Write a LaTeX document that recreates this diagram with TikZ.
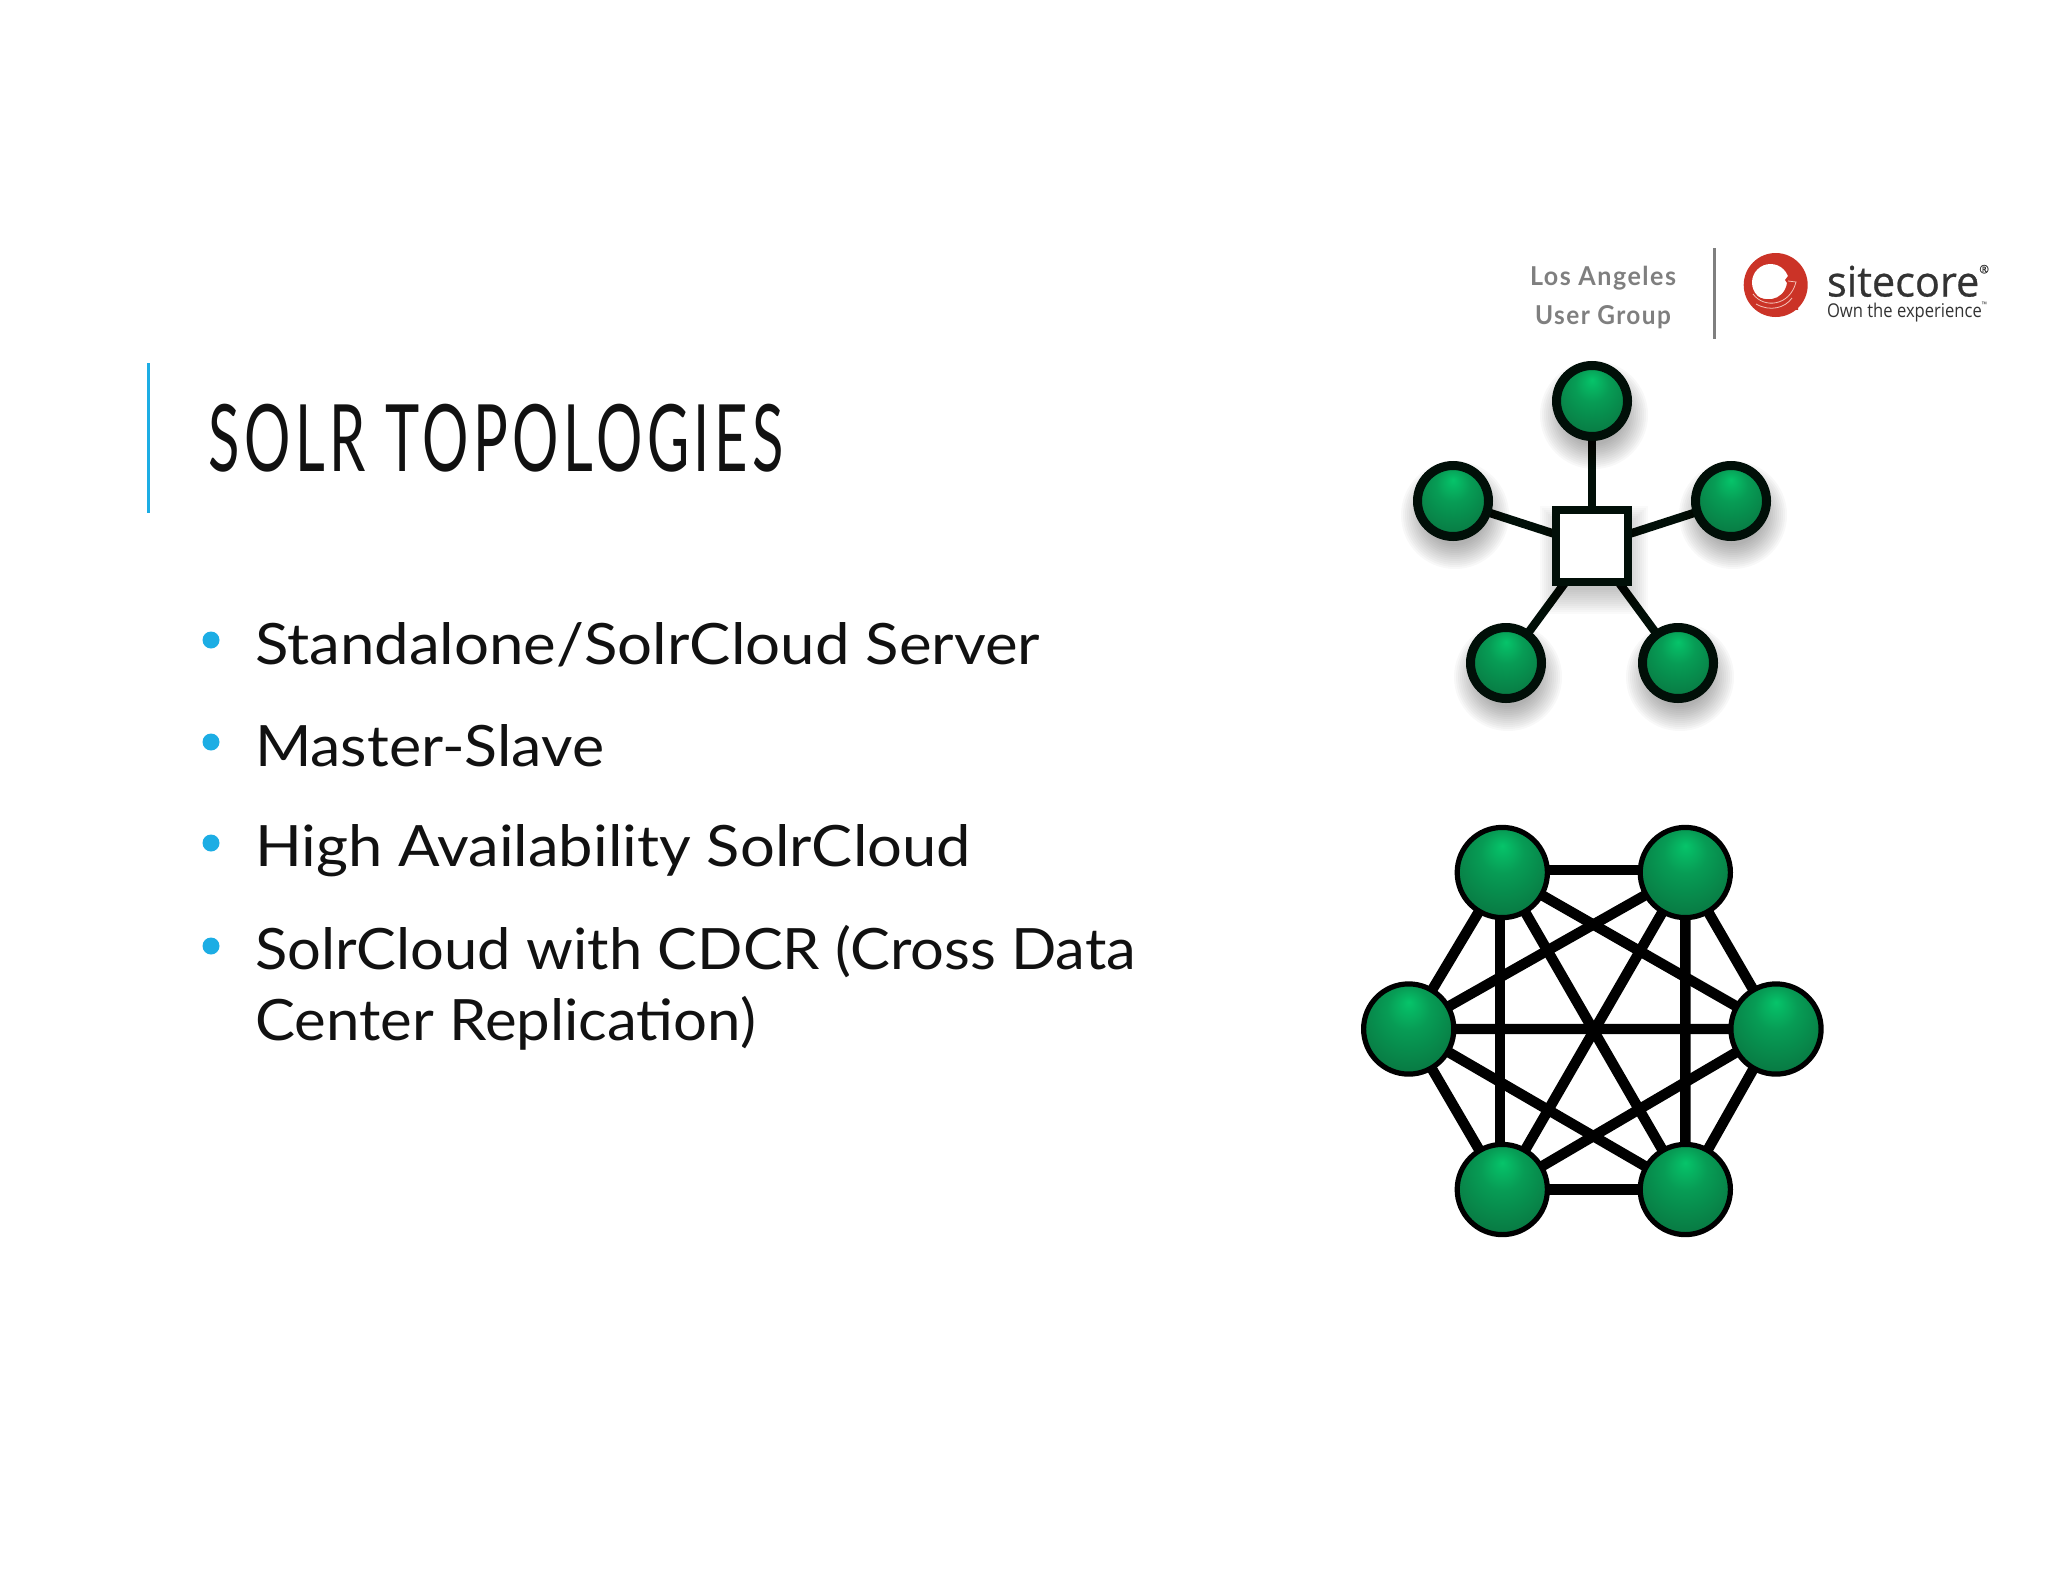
\documentclass[tikz,border=0pt]{standalone}
\usepackage{fontspec}
\usepackage{graphicx}
\usetikzlibrary{backgrounds}
\newfontfamily\bodyfont{Lato}
\newfontfamily\titlefont{Lato}[LetterSpace=8]
\newfontfamily\groupfont{Lato}[LetterSpace=6]
\newfontfamily\logofont{Open Sans}[FakeBold=0.6]
\newfontfamily\sloganfont{Open Sans}
\newcommand{\fitw}[2]{\resizebox{#1pt}{\height}{#2}}
\definecolor{accent}{HTML}{1CADE4}
\definecolor{inkdark}{HTML}{111111}
\definecolor{groupgrey}{HTML}{7F7F7F}
\definecolor{logored}{HTML}{CB3327}
\definecolor{logopink}{HTML}{F3C2B8}
\definecolor{logoink}{HTML}{333333}
\definecolor{ringdark}{HTML}{010F08}
\definecolor{gA}{HTML}{06C46A}
\definecolor{gB}{HTML}{079C55}
\definecolor{gC}{HTML}{087A43}
\definecolor{gD}{HTML}{055A32}
\pgfdeclareradialshading{greenball}{\pgfpoint{0bp}{15bp}}{%
  color(0bp)=(gA); color(12bp)=(gB); color(30bp)=(gC); color(50bp)=(gD)}
\pgfdeclarelayer{edges}
\pgfsetlayers{edges,main}
\tikzset{
  every node/.style={inner sep=0pt, outer sep=0pt},
  bodyline/.style={anchor=base west, text=inkdark, font=\bodyfont\fontsize{57}{57}\selectfont},
  titleline/.style={anchor=base west, text=inkdark, font=\titlefont\fontsize{93}{93}\selectfont},
  groupline/.style={anchor=base, text=groupgrey, font=\groupfont\bfseries\fontsize{26}{26}\selectfont},
  bulletdot/.style={circle, fill=accent, minimum size=17pt},
  starnode/.style={circle, draw=ringdark, line width=9pt, minimum size=71pt, shade, shading=greenball},
  hubnode/.style={rectangle, draw=ringdark, line width=8pt, fill=white, minimum size=72pt},
  meshnode/.style={circle, draw=black, line width=5.2pt, minimum size=90.2pt, shade, shading=greenball},
  staredge/.style={draw=ringdark, line width=8.4pt},
  meshedge/.style={draw=black, line width=10.4pt},
}
\begin{document}
\begin{tikzpicture}[x=1pt,y=-1pt]
\useasboundingbox (0,0) rectangle (2048,1582);
% left accent bar and title
\fill[accent] (147,363) rectangle (150,513);
\node[titleline] (title) at (208,471) {\fitw{576}{SOLR TOPOLOGIES}};
% bullets
\node[bulletdot] (b1) at (211,640) {};
\node[bulletdot] (b2) at (211,742) {};
\node[bulletdot] (b3) at (211,843) {};
\node[bulletdot] (b4) at (211,946) {};
\node[bodyline] (t1) at (255,664) {\fitw{785}{Standalone/SolrCloud Server}};
\node[bodyline] (t2) at (255,766) {\fitw{349}{Master-Slave}};
\node[bodyline] (t3) at (255,866) {\fitw{716}{High Availability SolrCloud}};
\node[bodyline] (t4) at (255,969) {\fitw{881}{SolrCloud with CDCR (Cross Data}};
\node[bodyline] (t5) at (255,1040) {\fitw{501}{Center Replication)}};
% group label
\node[groupline] (g1) at (1603,285) {\fitw{146}{Los Angeles}};
\node[groupline] (g2) at (1603,324) {\fitw{136}{User Group}};
\fill[groupgrey] (1713,248) rectangle (1716,339);
% sitecore mark
\fill[logored] (1775.7,285) circle (32);
\fill[white] (1770.5,282.5) circle (18.5);
\fill[logored] (1751,291) .. controls (1762,304) and (1784,302) .. (1787,283)
  -- (1785,280) -- (1791,272) -- (1798,283) -- (1798,310) -- (1755,305) -- cycle;
\draw[logopink, line width=.8pt] (1753,294) .. controls (1764,309) and (1790,306) .. (1796,282) -- (1788,281);
\draw[logopink, line width=.8pt] (1756,304) .. controls (1770,312) and (1785,308) .. (1792,298);
\node[anchor=base west, text=logoink, font=\logofont\fontsize{42}{42}\selectfont] (logo) at (1827,296.5)
  {\fitw{162}{sitecore\raisebox{.55em}{\scalebox{.28}{®}}}};
\node[anchor=base west, text=logoink, font=\sloganfont\fontsize{19}{19}\selectfont] (slogan) at (1827,317)
  {\fitw{160}{Own the experience\raisebox{.5em}{\scalebox{.4}{™}}}};
% star shadow
\begin{scope}[shift={(2,14)}]
\foreach \g in {0,2,...,24}{
  \fill[black,opacity=.026] (1592,401) circle (30+\g) (1453,501) circle (30+\g)
    (1731,501) circle (30+\g) (1506,663) circle (30+\g) (1678,663) circle (30+\g);
  \fill[black,opacity=.018] (1592-30-\g,546-30-\g) rectangle (1592+30+\g,546+30+\g);
}
\end{scope}
% star
\node[hubnode] (hub) at (1592,546) {};
\node[starnode] (s1) at (1592,401) {};
\node[starnode] (s2) at (1453,501) {};
\node[starnode] (s3) at (1731,501) {};
\node[starnode] (s4) at (1506,663) {};
\node[starnode] (s5) at (1678,663) {};
% mesh
\node[meshnode] (tl) at (1502.3,872.5) {};
\node[meshnode] (tr) at (1685.3,872.5) {};
\node[meshnode] (ml) at (1408.7,1029) {};
\node[meshnode] (mr) at (1776,1029) {};
\node[meshnode] (bl) at (1502.3,1189.5) {};
\node[meshnode] (br) at (1685.3,1189.5) {};
\begin{pgfonlayer}{edges}
\foreach \n in {s1,s2,s3,s4,s5}{\draw[staredge] (hub.center) -- (\n.center);}
\draw[meshedge] ([yshift=2.3pt]tl.center) -- ([yshift=2.3pt]tr.center);
\draw[meshedge] ([xshift=-2.3pt]tl.center) -- ([xshift=-2.3pt]bl.center);
\draw[meshedge] (tl) -- (ml) (tl) -- (mr) (tl) -- (br);
\draw[meshedge] (tr) -- (ml) (tr) -- (mr) (tr) -- (bl) (tr) -- (br);
\draw[meshedge] (ml) -- (mr) (ml) -- (bl) (ml) -- (br);
\draw[meshedge] (mr) -- (bl) (mr) -- (br);
\draw[meshedge] (bl) -- (br);
\end{pgfonlayer}
\end{tikzpicture}
\end{document}
